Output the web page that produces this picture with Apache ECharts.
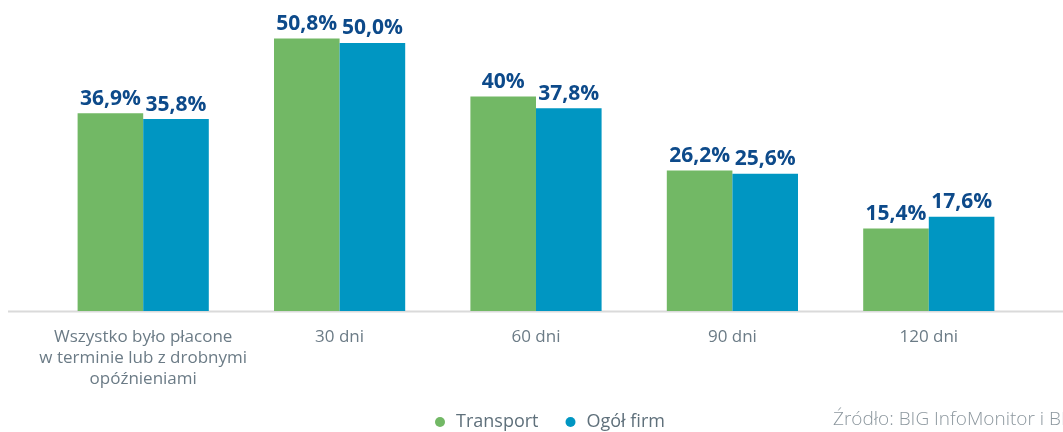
<!DOCTYPE html>
<html>
<head>
<meta charset="utf-8">
<script src="https://cdn.jsdelivr.net/npm/echarts@6/dist/echarts.min.js"></script>
<style>
html,body{margin:0;padding:0;background:#fff;}
#chart{width:1063px;height:432px;}
</style>
</head>
<body>
<div id="chart"></div>
<script>
var categories = ['Wszystko było płacone\nw terminie lub z drobnymi\nopóźnieniami', '30 dni', '60 dni', '90 dni', '120 dni'];
var transport = [36.9, 50.8, 40, 26.2, 15.4];
var ogolFirm = [35.8, 50.0, 37.8, 25.6, 17.6];
var transportLabels = ['36,9%', '50,8%', '40%', '26,2%', '15,4%'];
var ogolLabels = ['35,8%', '50,0%', '37,8%', '25,6%', '17,6%'];
var seriesNames = ['Transport', 'Ogół firm'];
var sourceText = 'Źródło: BIG InfoMonitor i BIK';

var chart = echarts.init(document.getElementById('chart'));
var labelStyle = {
  show: true, position: 'top', distance: 4,
  color: '#0d4a8a', fontFamily: 'Open Sans', fontWeight: 'bold', fontSize: 21
};
chart.setOption({
  animation: false,
  grid: {left: 45, right: 36, top: 0, bottom: 121},
  legend: {
    data: seriesNames,
    left: 430, top: 408,
    icon: 'circle', itemWidth: 10, itemHeight: 10, itemGap: 27,
    textStyle: {color: '#5f707b', fontFamily: 'Open Sans', fontSize: 18, padding: [0, 0, 0, 6]}
  },
  xAxis: {
    type: 'category', data: categories,
    axisLine: {show: false}, axisTick: {show: false},
    axisLabel: {color: '#6b7b86', fontFamily: 'Open Sans', fontSize: 17, lineHeight: 21, margin: 16, interval: 0}
  },
  yAxis: {type: 'value', min: 0, max: 58, show: false, splitLine: {show: false}},
  graphic: [
    {type: 'rect', shape: {x: 8, y: 310.5, width: 1055, height: 2}, style: {fill: '#dadada'}, silent: true},
    {type: 'text', left: 833, top: 410, style: {text: sourceText, fill: '#8c979e', font: '300 19px "Open Sans"'}}
  ],
  series: [
    {
      name: seriesNames[0], type: 'bar', data: transport, barWidth: '33.4%', barGap: '0%',
      itemStyle: {color: '#72b865'},
      label: Object.assign({}, labelStyle, {formatter: function (p) { return transportLabels[p.dataIndex]; }})
    },
    {
      name: seriesNames[1], type: 'bar', data: ogolFirm, barWidth: '33.4%',
      itemStyle: {color: '#0096c2'},
      label: Object.assign({}, labelStyle, {formatter: function (p) { return ogolLabels[p.dataIndex]; }})
    }
  ]
});
</script>
</body>
</html>
